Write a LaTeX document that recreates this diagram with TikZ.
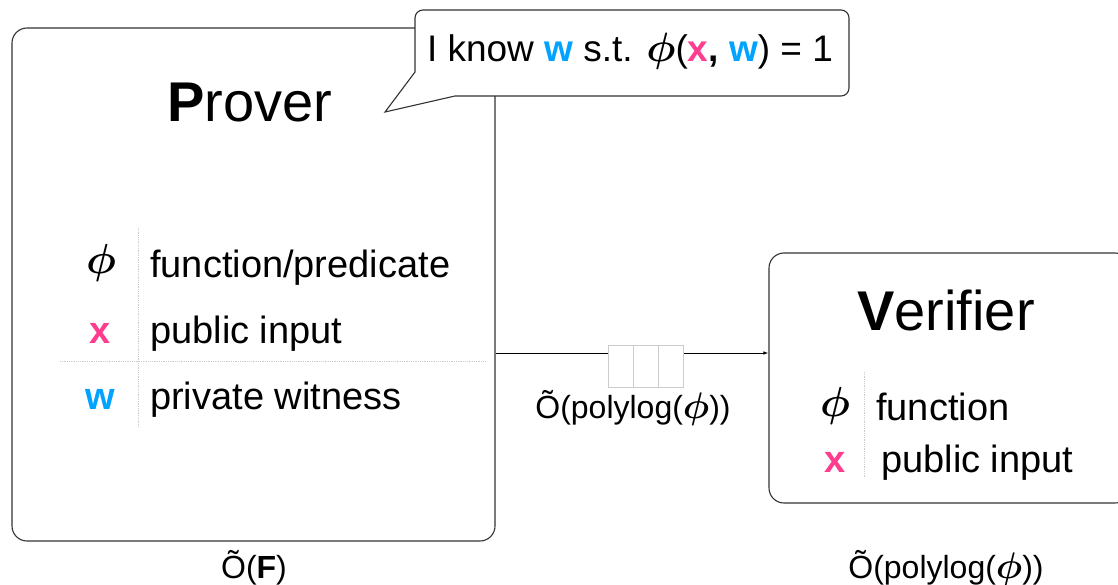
\documentclass[tikz,border=0pt]{standalone}
\usepackage{fix-cm}
\usepackage{bm}
\usepackage{fontspec}
\setmainfont{Liberation Sans}
\usetikzlibrary{arrows.meta}
\definecolor{pinkx}{HTML}{FF3D8F}
\definecolor{bluew}{HTML}{00A3FF}
\definecolor{boxline}{HTML}{333333}
\definecolor{dotgray}{HTML}{CCCCCC}
\newcommand{\xx}{\textbf{\color{pinkx}x}}
\newcommand{\ww}{\textbf{\color{bluew}w}}
\tikzset{
  bigbox/.style={draw=boxline, line width=1.1pt, rounded corners=15pt, fill=white, inner sep=0pt},
  titletext/.style={anchor=base, inner sep=0pt, font=\fontsize{56}{60}\selectfont},
  rowtext/.style={anchor=base west, inner sep=0pt, font=\fontsize{38}{40}\selectfont},
  symtext/.style={anchor=base, inner sep=0pt, font=\fontsize{38}{40}\selectfont},
  phisym/.style={anchor=center, inner sep=0pt, font=\fontsize{42}{44}\selectfont},
  labeltext/.style={anchor=base, inner sep=0pt, font=\fontsize{32}{34}\selectfont},
  sep/.style={dotgray, densely dotted, line width=0.8pt},
  cell/.style={draw=dotgray, fill=white, line width=0.9pt, minimum width=25pt, minimum height=42pt, inner sep=0pt},
}
\begin{document}
\begin{tikzpicture}[x=1pt,y=-1pt]
\useasboundingbox (0,0) rectangle (1118,585);
\clip (0,0) rectangle (1118,585);
% Prover box
\node[bigbox, minimum width=483pt, minimum height=513pt] (prover) at (253.5,284.5) {};
% Verifier box
\node[bigbox, minimum width=361pt, minimum height=250pt] (verifier) at (949.5,378) {};
% speech bubble
\draw[draw=boxline, line width=1.1pt, fill=white] (415,72) [rounded corners=8pt] -- (415,10) -- (849,10) -- (849,96) -- (480,96) [sharp corners] -- (455,96) -- (385,112) -- cycle;
\node[anchor=base, inner sep=0pt, font=\fontsize{37}{40}\selectfont] (claim) at (630,62) {I know \ww{} s.t. {\fontsize{41}{41}\selectfont$\bm\phi$}(\xx\textbf{,} \ww) = 1};
% titles
\node[titletext] (ptitle) at (250,122) {\textbf{P}rover};
\node[titletext] (vtitle) at (946,330) {\textbf{V}erifier};
% prover table
\draw[sep] (138,228) -- (138,427);
\draw[sep] (60,361) -- (485,361);
\node[phisym] (pphi) at (101,263) {$\bm\phi$};
\node[rowtext] (pfun) at (150,277) {function/predicate};
\node[symtext] (px) at (100,343) {\xx};
\node[rowtext] (ppub) at (150,343) {public input};
\node[symtext] (pw) at (100,409) {\ww};
\node[rowtext] (ppriv) at (150,409) {private witness};
% verifier table
\draw[sep] (864,372) -- (864,478);
\node[phisym] (vphi) at (835,406) {$\bm\phi$};
\node[rowtext] (vfun) at (876,420) {function};
\node[symtext] (vx) at (835,472) {\xx};
\node[rowtext] (vpub) at (881,472) {public input};
% connector
\coordinate (lineY) at (0,353);
\draw[line width=0.9pt, -{Latex[length=5pt,width=3.5pt]}] (prover.east |- lineY) -- (verifier.west |- lineY);
% packet
\node[cell] (c1) at (620.5,366) {};
\node[cell] (c2) at (645.5,366) {};
\node[cell] (c3) at (670.5,366) {};
% labels
\node[labeltext] (msize) at (633,418) {Õ(polylog({\fontsize{37}{37}\selectfont$\bm\phi$}))};
\node[labeltext] (psize) at (254,578) {Õ(\textbf{F})};
\node[labeltext] (vsize) at (946,578) {Õ(polylog({\fontsize{37}{37}\selectfont$\bm\phi$}))};
\end{tikzpicture}
\end{document}
